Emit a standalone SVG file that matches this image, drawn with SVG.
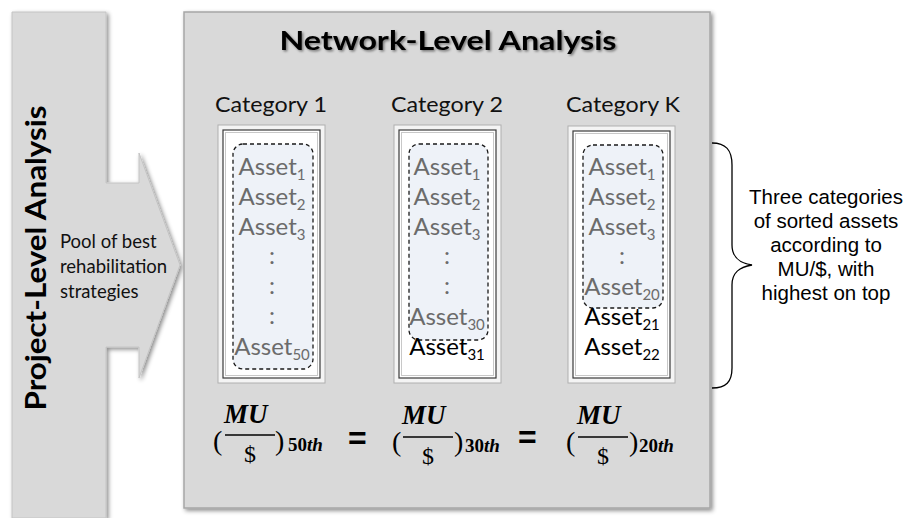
<svg xmlns="http://www.w3.org/2000/svg" width="907" height="518" viewBox="0 0 907 518">
<defs>
<filter id="sh" x="-10%" y="-10%" width="130%" height="130%"><feDropShadow dx="2" dy="2" stdDeviation="2" flood-color="#000" flood-opacity="0.45"/></filter>
<filter id="tsh" x="-5%" y="-20%" width="110%" height="150%"><feDropShadow dx="1.5" dy="1.5" stdDeviation="1.2" flood-color="#000" flood-opacity="0.45"/></filter>
<style>
.cal{font-family:Lato,"Liberation Sans",sans-serif}
.ar{font-family:"Liberation Sans",Arial,sans-serif}
.cat{font-size:22px;fill:#111}
.as{font-size:24px;fill:#6b6b6b;text-anchor:middle}
.ab{font-size:24px;fill:#000;text-anchor:middle}
.sub{font-size:15px}
.frame{fill:#f4f4f4;stroke:#b0b0b0;stroke-width:1}
.inner{fill:#fff;stroke:#3a3a3a;stroke-width:1.2}
.inner2{fill:none;stroke:#c8c8c8;stroke-width:1}
.dash{fill:#eef2f8;stroke:#1a1a1a;stroke-width:1.3;stroke-dasharray:4 3}
.mu{font-family:"Liberation Serif","Times New Roman",serif;font-weight:bold;font-style:italic;font-size:27px}
.dol{font-family:"Liberation Serif","Times New Roman",serif;font-size:24px;text-anchor:middle}
.par{font-family:"Liberation Serif","Times New Roman",serif;font-size:28px}
.sb{font-family:"Liberation Serif","Times New Roman",serif;font-weight:bold;font-size:19px}
.eq{font-family:"Liberation Sans",Arial,sans-serif;font-weight:bold;font-size:32px}
.fl{stroke:#000;stroke-width:1.6}
</style>
</defs>
<rect width="907" height="518" fill="#fff"/>

<g id="project-level">
<polygon points="12,12 106,12 106,183 139,183 139,153 180,265 139,378 139,347 106,347 106,518 12,518" fill="#d9d9d9" stroke="#c4c4c4" stroke-width="1" filter="url(#sh)"/>
<text class="cal" font-weight="bold" font-size="29" fill="#000" text-anchor="middle" transform="translate(46,258) rotate(-90)" textLength="305" lengthAdjust="spacingAndGlyphs">Project-Level Analysis</text>
<text class="cal" font-size="18.5" fill="#111"><tspan x="60" y="248">Pool of best</tspan><tspan x="60" y="273">rehabilitation</tspan><tspan x="60" y="298">strategies</tspan></text>
</g>

<g id="network-level">
<rect x="184" y="12" width="526" height="496" fill="#d9d9d9" stroke="#a6a6a6" stroke-width="1.5" filter="url(#sh)"/>
<text class="cal" x="448" y="50" font-weight="bold" font-size="27" text-anchor="middle" fill="#000" filter="url(#tsh)" textLength="337" lengthAdjust="spacingAndGlyphs">Network-Level Analysis</text>
</g>

<g id="category-1">
<text class="cal cat" x="215" y="112" textLength="112" lengthAdjust="spacingAndGlyphs">Category 1</text>
<rect class="frame" x="218" y="125" width="107" height="258"/>
<rect class="inner" x="223" y="130" width="97" height="248"/>
<rect class="inner2" x="225.5" y="132.5" width="92" height="243"/>
<rect class="dash" x="233" y="144" width="80" height="225" rx="10"/>
<g class="cal as">
<text x="272" y="175">Asset<tspan class="sub" dy="5">1</tspan></text>
<text x="272" y="205">Asset<tspan class="sub" dy="5">2</tspan></text>
<text x="272" y="235">Asset<tspan class="sub" dy="5">3</tspan></text>
<text x="272" y="264">:</text>
<text x="272" y="294">:</text>
<text x="272" y="324">:</text>
<text x="272" y="355">Asset<tspan class="sub" dy="5">50</tspan></text>
</g>
</g>

<g id="category-2">
<text class="cal cat" x="391" y="112" textLength="112" lengthAdjust="spacingAndGlyphs">Category 2</text>
<rect class="frame" x="394" y="125" width="107" height="258"/>
<rect class="inner" x="399" y="130" width="97" height="248"/>
<rect class="inner2" x="401.5" y="132.5" width="92" height="243"/>
<rect class="dash" x="409" y="144" width="79" height="196" rx="10"/>
<g class="cal as">
<text x="447" y="175">Asset<tspan class="sub" dy="5">1</tspan></text>
<text x="447" y="205">Asset<tspan class="sub" dy="5">2</tspan></text>
<text x="447" y="235">Asset<tspan class="sub" dy="5">3</tspan></text>
<text x="447" y="264">:</text>
<text x="447" y="294">:</text>
<text x="447" y="325">Asset<tspan class="sub" dy="5">30</tspan></text>
</g>
<text class="cal ab" x="447" y="355">Asset<tspan class="sub" dy="5">31</tspan></text>
</g>

<g id="category-k">
<text class="cal cat" x="566" y="112" textLength="114" lengthAdjust="spacingAndGlyphs">Category K</text>
<rect class="frame" x="568" y="126" width="107" height="257"/>
<rect class="inner" x="573" y="131" width="97" height="247"/>
<rect class="inner2" x="575.5" y="133.5" width="92" height="242"/>
<rect class="dash" x="583" y="145" width="80" height="163" rx="10"/>
<g class="cal as">
<text x="622" y="175">Asset<tspan class="sub" dy="5">1</tspan></text>
<text x="622" y="205">Asset<tspan class="sub" dy="5">2</tspan></text>
<text x="622" y="235">Asset<tspan class="sub" dy="5">3</tspan></text>
<text x="622" y="264">:</text>
<text x="622" y="295">Asset<tspan class="sub" dy="5">20</tspan></text>
</g>
<text class="cal ab" x="622" y="325">Asset<tspan class="sub" dy="5">21</tspan></text>
<text class="cal ab" x="622" y="355">Asset<tspan class="sub" dy="5">22</tspan></text>
</g>

<g id="formula">
<text class="par" x="213" y="450">(</text>
<text class="mu" x="224" y="423">MU</text>
<line class="fl" x1="225" y1="435" x2="275" y2="435"/>
<text class="dol" x="250" y="462">$</text>
<text class="par" x="275" y="450">)</text>
<text class="sb" x="288" y="451">50<tspan font-style="italic">th</tspan></text>
<text class="eq" x="348" y="449">=</text>

<text class="par" x="392" y="451">(</text>
<text class="mu" x="402" y="424">MU</text>
<line class="fl" x1="403" y1="437" x2="453" y2="437"/>
<text class="dol" x="428" y="464">$</text>
<text class="par" x="454" y="451">)</text>
<text class="sb" x="465" y="452">30<tspan font-style="italic">th</tspan></text>
<text class="eq" x="518" y="448">=</text>

<text class="par" x="566" y="451">(</text>
<text class="mu" x="577" y="424">MU</text>
<line class="fl" x1="578" y1="437" x2="628" y2="437"/>
<text class="dol" x="603" y="464">$</text>
<text class="par" x="629" y="451">)</text>
<text class="sb" x="639" y="452">20<tspan font-style="italic">th</tspan></text>
</g>

<g id="connectors">
<path d="M712,143 C726,143 732,150 732,165 L732,245 C732,258 740,263 752,265 C740,267 732,272 732,285 L732,368 C732,382 726,388 712,388" fill="none" stroke="#000" stroke-width="1.3"/>
</g>

<g id="brace-label">
<text class="ar" font-size="20.5" fill="#000" text-anchor="middle"><tspan x="826" y="204">Three categories</tspan><tspan x="826" y="228">of sorted assets</tspan><tspan x="826" y="252">according to</tspan><tspan x="826" y="276">MU/$, with</tspan><tspan x="826" y="300">highest on top</tspan></text>
</g>
</svg>
